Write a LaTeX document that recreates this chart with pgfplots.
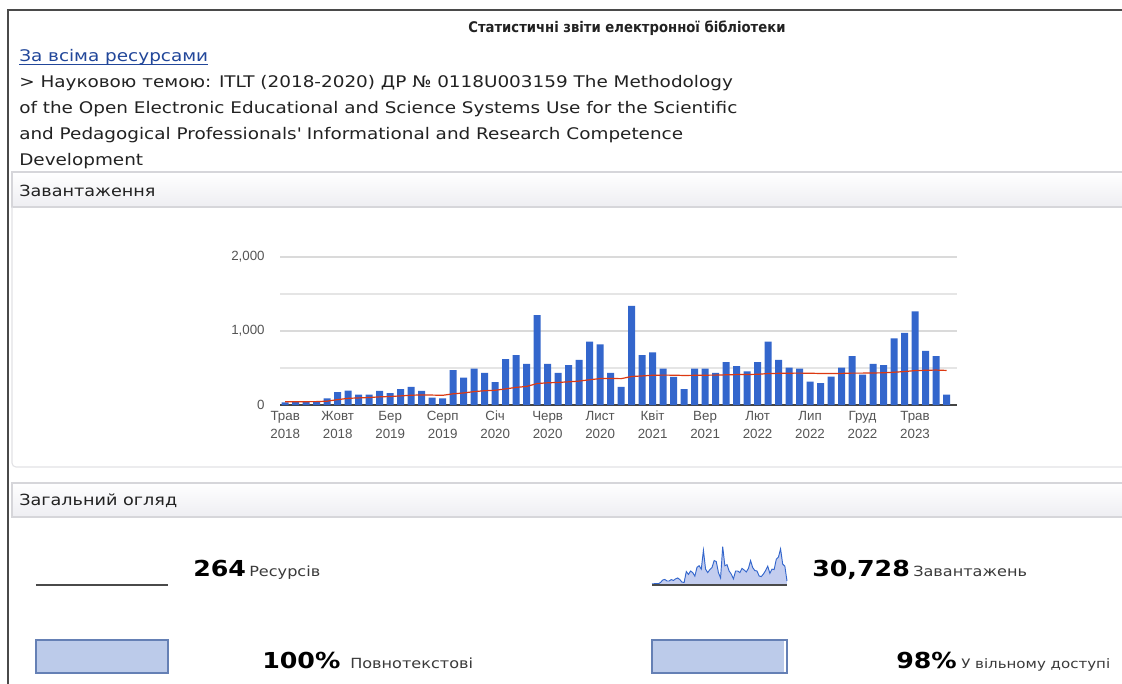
\documentclass[border=0pt]{standalone}
\usepackage{fontspec}
\setmainfont{DejaVu Sans}[FakeStretch=1.15]
\newfontfamily\cond{DejaVu Sans Condensed}
\newfontfamily\arial{Liberation Sans}
\usepackage{pgfplots}
\pgfplotsset{compat=1.18}
\usepackage{pgfplotstable}

\definecolor{gblue}{HTML}{3366CC}
\definecolor{gred}{HTML}{DC3912}
\definecolor{gridc}{HTML}{DADADA}
\definecolor{axisc}{HTML}{444444}
\definecolor{tickc}{HTML}{555555}
\definecolor{linkc}{HTML}{22479A}
\definecolor{bandbot}{HTML}{EEEEF2}
\definecolor{bandline}{HTML}{D6D6DA}
\definecolor{framec}{HTML}{4A4A4A}
\definecolor{pfill}{HTML}{BCCBEA}
\definecolor{pbord}{HTML}{6580B5}
\definecolor{sfill}{HTML}{C3CDEF}
\definecolor{txtc}{HTML}{222222}
\definecolor{smallc}{HTML}{3A3A3A}

\pgfplotstableread{
m v r
0 35 45
1 45 45
2 45 45
3 45 46
4 90 52
5 175 73
6 195 90
7 140 96
8 140 101
9 190 110
10 160 115
11 215 123
12 245 132
13 190 136
14 100 134
15 90 131
16 470 151
17 370 163
18 490 181
19 435 193
20 310 199
21 620 218
22 675 238
23 555 251
24 1215 290
25 555 300
26 435 305
27 540 313
28 610 323
29 855 341
30 820 357
31 435 359
32 245 356
33 1340 385
34 675 393
35 710 402
36 490 404
37 380 403
38 215 399
39 490 401
40 490 403
41 435 404
42 580 408
43 525 411
44 455 412
45 580 415
46 855 425
47 610 428
48 505 430
49 490 431
50 315 429
51 295 426
52 385 426
53 505 427
54 660 431
55 410 431
56 555 433
57 540 435
58 900 443
59 975 452
60 1265 465
61 730 469
62 660 472
63 140 467
}\dl

\begin{document}
\begin{tikzpicture}[x=0.75pt,y=-0.75pt]
\useasboundingbox (0,0) rectangle (1122,684);
\clip (0,0) rectangle (1122,684);
\fill[white] (0,0) rectangle (1122,684);

% outer frame
\draw[framec, line width=1.2pt] (8,684) -- (8,10) -- (1122,10);

% title and heading text
\node[anchor=base, inner sep=0, text=txtc] at (627,33) {\cond\fontsize{11}{13}\selectfont\bfseries Статистичні звіти електронної бібліотеки};
\node[anchor=base west, inner sep=0, text=linkc] (lk) at (19,62) {\fontsize{12}{14}\selectfont За всіма ресурсами};
\draw[linkc, line width=0.7pt] ([yshift=-2pt]lk.base west) -- ([yshift=-2pt]lk.base east);
\node[anchor=base west, inner sep=0, text=txtc] at (19,88) {\fontsize{12}{14}\selectfont > Науковою темою: ITLT (2018-2020) ДР № 0118U003159 The Methodology};
\node[anchor=base west, inner sep=0, text=txtc] at (19,114) {\fontsize{12}{14}\selectfont of the Open Electronic Educational and Science Systems Use for the Scientific};
\node[anchor=base west, inner sep=0, text=txtc] at (19,140) {\fontsize{12}{14}\selectfont and Pedagogical Professionals\textquotesingle\ Informational and Research Competence};
\node[anchor=base west, inner sep=0, text=txtc] at (19,166) {\fontsize{12}{14}\selectfont Development};

% section band 1
\shade[top color=white, bottom color=bandbot] (12,172) rectangle (1122,207);
\draw[bandline, line width=0.8pt] (1122,172) -- (12,172) -- (12,207) -- (1122,207);
\node[anchor=base west, inner sep=0, text=txtc] at (19,197) {\fontsize{11.5}{14}\selectfont Завантаження};
% chart box
\draw[bandline!70, line width=0.8pt, rounded corners=3pt] (12,207) -- (12,467) -- (1122,467);

% section band 2
\shade[top color=white, bottom color=bandbot] (12,483) rectangle (1122,517);
\draw[bandline, line width=0.8pt] (1122,483) -- (12,483) -- (12,517) -- (1122,517);
\node[anchor=base west, inner sep=0, text=txtc] at (19,505) {\fontsize{11.5}{14}\selectfont Загальний огляд};

% main chart
\begin{axis}[
  at={(210pt,-303.75pt)}, anchor=south west,
  scale only axis, width=507.75pt, height=111pt,
  xmin=-0.5, xmax=64, ymin=0, ymax=2000,
  axis x line*=bottom, axis y line*=left,
  x axis line style={draw=axisc, line width=0.8pt},
  y axis line style={draw=none},
  major tick length=0pt, minor tick length=0pt,
  ytick={0,1000,2000}, yticklabels={0,{1,000},{2,000}},
  minor ytick={500,1500},
  ymajorgrids, yminorgrids,
  major grid style={gridc, line width=0.8pt},
  minor grid style={gridc!70, line width=0.8pt},
  xtick={0,5,...,60},
  xticklabels={{Трав\\2018},{Жовт\\2018},{Бер\\2019},{Серп\\2019},{Січ\\2020},{Черв\\2020},{Лист\\2020},{Квіт\\2021},{Вер\\2021},{Лют\\2022},{Лип\\2022},{Груд\\2022},{Трав\\2023}},
  xticklabel style={align=center, font=\arial\fontsize{10}{13.5}\selectfont, text=tickc, yshift=-1pt},
  yticklabel style={font=\arial\fontsize{10}{12}\selectfont, text=tickc, xshift=-8pt},
  clip=false,
]
\addplot[ybar, bar width=5.25pt, fill=gblue, draw=none] table[x=m,y=v]{\dl};
\addplot[gred, line width=0.9pt, no marks] table[x=m,y=r]{\dl};
\end{axis}

% resources sparkline (flat)
\begin{axis}[
  at={(27pt,-438.75pt)}, anchor=south west,
  scale only axis, width=99pt, height=30pt,
  xmin=0, xmax=63, ymin=264, ymax=300,
  axis lines=none, ticks=none, clip=false,
]
\addplot[color=framec, line width=0.9pt, no marks] coordinates {(0,264) (63,264)};
\end{axis}

% downloads sparkline
\begin{axis}[
  at={(489pt,-438.75pt)}, anchor=south west,
  scale only axis, width=101.25pt, height=30pt,
  xmin=0, xmax=63, ymin=0, ymax=1400,
  axis lines=none, ticks=none, clip=false,
]
\addplot[fill=sfill, draw=none, no marks] table[x=m,y=v]{\dl} \closedcycle;
\addplot[gblue, line width=0.7pt, no marks] table[x=m,y=v]{\dl};
\addplot[color=framec, line width=0.9pt, no marks] coordinates {(0,0) (63,0)};
\end{axis}

% progress bars
\begin{axis}[
  at={(27pt,-504.75pt)}, anchor=south west,
  scale only axis, width=99pt, height=24.75pt,
  xmin=0, xmax=100, ymin=-0.5, ymax=0.5,
  ticks=none, axis line style={draw=pbord, line width=0.9pt},
  axis on top,
]
\addplot[xbar, bar width=24.75pt, fill=pfill, draw=none] coordinates {(100,0)};
\end{axis}
\begin{axis}[
  at={(489pt,-504.75pt)}, anchor=south west,
  scale only axis, width=101.25pt, height=24.75pt,
  xmin=0, xmax=100, ymin=-0.5, ymax=0.5,
  ticks=none, axis line style={draw=pbord, line width=0.9pt},
  axis on top,
]
\addplot[xbar, bar width=24.75pt, fill=pfill, draw=none] coordinates {(98,0)};
\end{axis}

% stats text
\node[anchor=base west, inner sep=0, text=black] at (193,576) {\fontsize{16.5}{20}\selectfont\bfseries 264};
\node[anchor=base west, inner sep=0, text=smallc] at (249,576) {\fontsize{10.5}{12}\selectfont Ресурсів};
\node[anchor=base west, inner sep=0, text=black] at (812,576) {\fontsize{16.5}{20}\selectfont\bfseries 30,728};
\node[anchor=base west, inner sep=0, text=smallc] at (913,576) {\fontsize{10.5}{12}\selectfont Завантажень};
\node[anchor=base west, inner sep=0, text=black] at (262,668) {\fontsize{16.5}{20}\selectfont\bfseries 100\%};
\node[anchor=base west, inner sep=0, text=smallc] at (350,668) {\fontsize{10.5}{12}\selectfont Повнотекстові};
\node[anchor=base west, inner sep=0, text=black] at (896,668) {\fontsize{16.5}{20}\selectfont\bfseries 98\%};
\node[anchor=base west, inner sep=0, text=smallc] at (961,668) {\fontsize{9.8}{12}\selectfont У вільному доступі};
\end{tikzpicture}
\end{document}
